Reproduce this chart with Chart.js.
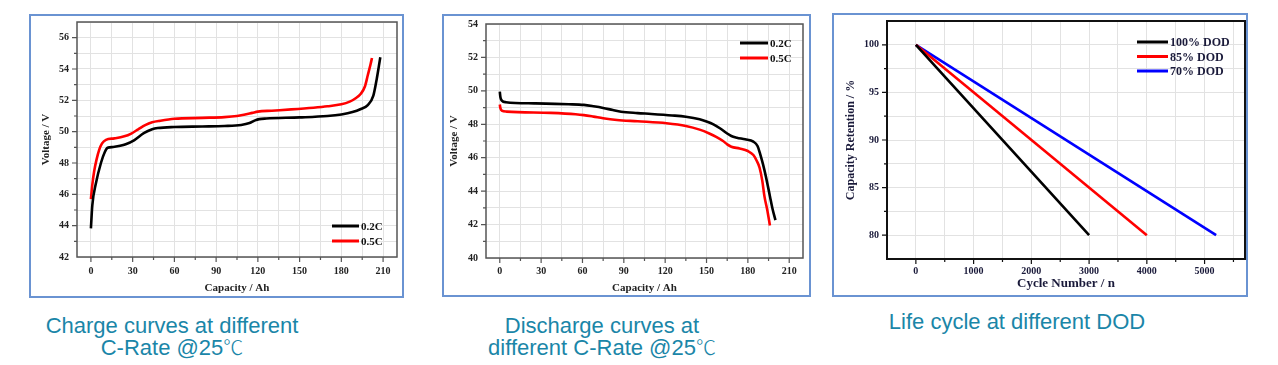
<!DOCTYPE html>
<html>
<head>
<meta charset="utf-8">
<script src="https://cdn.jsdelivr.net/npm/chart.js@4/dist/chart.umd.min.js"></script>
<style>
  html, body { margin: 0; padding: 0; background: #fff; }
  body { width: 1278px; height: 365px; position: relative; overflow: hidden; }
  .box { position: absolute; box-sizing: border-box; border: 2px solid #6a93d2; background: #fff; }
  .box canvas { display: block; }
  .cap { position: absolute; color: #1a86a8; font-family: "Liberation Sans", Arial, sans-serif;
         font-size: 22px; line-height: 21px; text-align: center; white-space: nowrap; }
  .deg { font-family: "Noto Sans CJK SC", sans-serif; font-weight: 300; font-size: 20px; }
</style>
</head>
<body>
<div class="box" style="left:29px;top:14px;width:375px;height:284px"><canvas id="c1" width="371" height="280"></canvas></div>
<div class="box" style="left:442px;top:14px;width:369px;height:283px"><canvas id="c2" width="365" height="279"></canvas></div>
<div class="box" style="left:832px;top:13px;width:416px;height:284px"><canvas id="c3" width="412" height="280"></canvas></div>

<div class="cap" style="left:22px;top:315px;width:300px">Charge curves at different<br>C-Rate @25<span class="deg">℃</span></div>
<div class="cap" style="left:452px;top:315px;width:300px">Discharge curves at<br>different C-Rate @25<span class="deg">℃</span></div>
<div class="cap" style="left:867px;top:311px;width:300px">Life cycle at different DOD</div>

<script>
// charge curves (Ah, V)
const chargeCap02 = [0, 1, 3.6, 7.2, 10, 12, 16, 21, 25, 31, 38, 44, 48, 60, 80, 96, 108, 114, 118, 121, 126, 150, 170, 180, 188, 194, 199, 203, 205.5, 207, 208];
const chargeV02 = [43.83, 45.3, 46.7, 48.0, 48.7, 48.97, 49.02, 49.1, 49.2, 49.45, 49.9, 50.15, 50.23, 50.3, 50.33, 50.36, 50.43, 50.55, 50.72, 50.8, 50.84, 50.91, 51.0, 51.1, 51.25, 51.45, 51.7, 52.3, 53.4, 54.2, 54.75];
const chargeCap05 = [0, 1, 2.4, 4, 6, 8, 10.8, 16.8, 24, 29, 34, 39, 44, 50, 60, 80, 96, 105, 110, 116, 120, 130, 144, 160, 170, 180, 186, 190, 194, 197, 199, 201, 202];
const chargeV05 = [45.7, 46.6, 47.5, 48.2, 48.85, 49.25, 49.48, 49.57, 49.7, 49.88, 50.15, 50.42, 50.6, 50.7, 50.82, 50.88, 50.93, 51.0, 51.08, 51.2, 51.28, 51.34, 51.42, 51.53, 51.62, 51.75, 51.92, 52.12, 52.42, 52.9, 53.6, 54.3, 54.7];

// discharge curves (Ah, V)
const dischCap02 = [0, 0.5, 1.5, 4.5, 25, 50, 61, 68, 75, 82, 88, 100, 110, 125, 135, 145, 150, 155, 160, 165, 168, 172, 178, 184, 187, 189, 191, 193, 196, 198, 200];
const dischV02 = [49.95, 49.6, 49.42, 49.32, 49.25, 49.2, 49.16, 49.08, 48.98, 48.85, 48.75, 48.67, 48.62, 48.53, 48.45, 48.3, 48.17, 48.0, 47.75, 47.45, 47.3, 47.2, 47.1, 46.96, 46.7, 46.2, 45.6, 44.9, 43.7, 42.9, 42.27];
const dischCap05 = [0, 0.5, 1.5, 5, 37, 55, 61, 68, 75, 85, 100, 121, 135, 145, 152, 157, 162, 165, 168, 174, 180, 184, 186.5, 188.5, 190.5, 192, 194, 196];
const dischV05 = [49.18, 48.95, 48.82, 48.76, 48.68, 48.6, 48.55, 48.46, 48.36, 48.26, 48.18, 48.06, 47.9, 47.68, 47.45, 47.25, 47.0, 46.8, 46.66, 46.55, 46.4, 46.16, 45.8, 45.4, 44.6, 43.7, 42.9, 41.95];

// life cycle (cycles, retention %)
const cycles100 = [0, 3000];
const retention100 = [100, 80];
const cycles85 = [0, 4000];
const retention85 = [100, 80];
const cycles70 = [0, 5200];
const retention70 = [100, 80];

// labelled (major) ticks
const capTicks = [0, 30, 60, 90, 120, 150, 180, 210];
const chargeVTicks = [42, 44, 46, 48, 50, 52, 54, 56];
const dischVTicks = [40, 42, 44, 46, 48, 50, 52, 54];
const cycleTicks = [0, 1000, 2000, 3000, 4000, 5000];
const retentionTicks = [80, 85, 90, 95, 100];

const serif = "'Liberation Serif', 'Times New Roman', serif";

const pts = (xs, ys) => xs.map((x, i) => ({ x: x, y: ys[i] }));

// majors plus a minor tick half way, kept inside [min, max]
function withMinors(majors, min, max) {
    const step = majors[1] - majors[0];
    const out = [];
    let v = majors[0];
    while (v - step / 2 >= min) v -= step / 2;
    for (; v <= max + 1e-9; v += step / 2) out.push(Math.round(v * 1000) / 1000);
    return out;
}

// frame, outside ticks and the inner legend
const framePlugin = {
    id: 'frame',
    afterDraw(chart, args, opts) {
        const ctx = chart.ctx;
        const a = chart.chartArea;
        ctx.save();
        ctx.strokeStyle = opts.color;
        ctx.lineWidth = opts.width;
        ctx.strokeRect(a.left, a.top, a.right - a.left, a.bottom - a.top);

        const xs = chart.scales.x, ys = chart.scales.y;
        ctx.lineWidth = 1.2;
        ctx.beginPath();
        xs.ticks.forEach(t => {
            const v = t.value;
            if (v <= xs.min || v >= xs.max) return;
            const p = xs.getPixelForValue(v);
            const len = opts.xMajor.includes(v) ? 5 : 3;
            ctx.moveTo(p, a.bottom);
            ctx.lineTo(p, a.bottom + len);
        });
        ys.ticks.forEach(t => {
            const v = t.value;
            if (v <= ys.min || v >= ys.max) return;
            const p = ys.getPixelForValue(v);
            const len = opts.yMajor.includes(v) ? 5 : 3;
            ctx.moveTo(a.left, p);
            ctx.lineTo(a.left - len, p);
        });
        ctx.stroke();

        // legend
        const lg = opts.legend;
        ctx.font = 'bold ' + lg.size + 'px ' + serif;
        ctx.textBaseline = 'middle';
        ctx.textAlign = 'left';
        chart.data.datasets.forEach((ds, i) => {
            const y = lg.y + i * lg.gap;
            ctx.strokeStyle = ds.borderColor;
            ctx.lineWidth = 3;
            ctx.beginPath();
            ctx.moveTo(lg.x, y);
            ctx.lineTo(lg.x + lg.len, y);
            ctx.stroke();
            ctx.fillStyle = lg.color;
            ctx.fillText(ds.label, lg.x + lg.len + 2, y + 1);
        });
        ctx.restore();
    }
};

function makeChart(id, cfg) {
    const canvas = document.getElementById(id);
    const W = canvas.width, H = canvas.height;
    const gridStyle = { color: '#e2e2e2', borderDash: [1, 2], lineWidth: 1, drawTicks: false };
    const xAll = withMinors(cfg.x.ticks, cfg.x.min, cfg.x.max);
    const yAll = withMinors(cfg.y.ticks, cfg.y.min, cfg.y.max);
    return new Chart(canvas.getContext('2d'), {
        type: 'line',
        data: { datasets: cfg.datasets },
        options: {
            responsive: false,
            animation: false,
            events: [],
            layout: { padding: { left: 0, top: cfg.plot.top, right: W - cfg.plot.right, bottom: 0 } },
            elements: { point: { radius: 0 }, line: { borderWidth: 2.6, cubicInterpolationMode: 'monotone' } },
            plugins: {
                legend: { display: false },
                tooltip: { enabled: false },
                frame: { xMajor: cfg.x.ticks, yMajor: cfg.y.ticks, legend: cfg.legend, color: cfg.frameColor, width: cfg.frameWidth }
            },
            scales: {
                x: {
                    type: 'linear',
                    min: cfg.x.min, max: cfg.x.max,
                    grid: gridStyle,
                    border: { display: false },
                    afterBuildTicks: s => { s.ticks = xAll.map(v => ({ value: v })); },
                    ticks: {
                        autoSkip: false, maxRotation: 0, padding: cfg.x.pad,
                        color: cfg.tickColor, font: { family: serif, weight: 'bold', size: 10 },
                        callback: v => cfg.x.ticks.includes(v) ? String(v) : ''
                    },
                    title: { display: true, text: cfg.x.title, color: cfg.tickColor, padding: { top: 0, bottom: cfg.x.titlePad },
                             font: { family: serif, weight: 'bold', size: cfg.x.titleSize } },
                    afterFit: s => { s.height = H - cfg.plot.bottom; s.paddingLeft = 0; s.paddingRight = 0; }
                },
                y: {
                    min: cfg.y.min, max: cfg.y.max,
                    grid: gridStyle,
                    border: { display: false },
                    afterBuildTicks: s => { s.ticks = yAll.map(v => ({ value: v })); },
                    ticks: {
                        autoSkip: false, padding: cfg.y.pad,
                        color: cfg.tickColor, font: { family: serif, weight: 'bold', size: 10 },
                        callback: v => cfg.y.ticks.includes(v) ? String(v) : ''
                    },
                    title: { display: true, text: cfg.y.title, color: cfg.tickColor, padding: { top: cfg.y.titlePad, bottom: 0 },
                             font: { family: serif, weight: 'bold', size: cfg.y.titleSize } },
                    afterFit: s => { s.width = cfg.plot.left; s.paddingTop = 0; s.paddingBottom = 0; }
                }
            }
        },
        plugins: [framePlugin]
    });
}

makeChart('c1', {
    plot: { left: 46, right: 366, top: 6, bottom: 241 },
    x: { min: -10, max: 220, ticks: capTicks, pad: 8, title: 'Capacity / Ah', titleSize: 11, titlePad: 1 },
    y: { min: 42, max: 57, ticks: chargeVTicks, pad: 8, title: 'Voltage / V', titleSize: 11, titlePad: 9 },
    tickColor: '#222', frameColor: '#555', frameWidth: 1.5,
    legend: { x: 301, y: 210, gap: 15, len: 27, size: 11, color: '#111' },
    datasets: [
        { label: '0.2C', data: pts(chargeCap02, chargeV02), borderColor: '#000000' },
        { label: '0.5C', data: pts(chargeCap05, chargeV05), borderColor: '#ff0000' }
    ]
});

makeChart('c2', {
    plot: { left: 42, right: 359, top: 8, bottom: 242 },
    x: { min: -10, max: 220, ticks: capTicks, pad: 7, title: 'Capacity / Ah', titleSize: 11, titlePad: 0 },
    y: { min: 40, max: 54, ticks: dischVTicks, pad: 8, title: 'Voltage / V', titleSize: 11, titlePad: 4 },
    tickColor: '#222', frameColor: '#555', frameWidth: 1.5,
    legend: { x: 296, y: 27, gap: 15, len: 28, size: 11, color: '#111' },
    datasets: [
        { label: '0.2C', data: pts(dischCap02, dischV02), borderColor: '#000000' },
        { label: '0.5C', data: pts(dischCap05, dischV05), borderColor: '#ff0000' }
    ]
});

makeChart('c3', {
    plot: { left: 53, right: 411, top: 6, bottom: 244 },
    x: { min: -500, max: 5700, ticks: cycleTicks, pad: 6, title: 'Cycle Number / n', titleSize: 13, titlePad: 4 },
    y: { min: 77.5, max: 102.5, ticks: retentionTicks, pad: 8, title: 'Capacity Retention / %', titleSize: 12, titlePad: 10 },
    tickColor: '#1a1a3a', frameColor: '#111', frameWidth: 2,
    legend: { x: 303, y: 27, gap: 14.5, len: 31, size: 12, color: '#1a1a3a' },
    datasets: [
        { label: '100% DOD', data: pts(cycles100, retention100), borderColor: '#000000' },
        { label: '85% DOD', data: pts(cycles85, retention85), borderColor: '#ff0000' },
        { label: '70% DOD', data: pts(cycles70, retention70), borderColor: '#0000ff' }
    ]
});
</script>
</body>
</html>
